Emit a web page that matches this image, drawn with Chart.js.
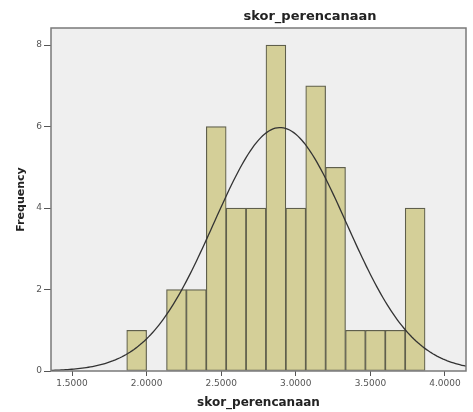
<!DOCTYPE html>
<html>
<head>
<meta charset="utf-8">
<script src="https://cdn.jsdelivr.net/npm/chart.js@4.4.1/dist/chart.umd.min.js"></script>
<style>
  html, body { margin: 0; padding: 0; background: #ffffff; }
  #wrap { width: 473px; height: 412px; }
</style>
</head>
<body>
<div id="wrap"><canvas id="hist" width="473" height="412"></canvas></div>
<script>
// Histogram bins of skor_perencanaan (bin centres) and their frequencies
const binCenters = [1.9333, 2.0667, 2.2000, 2.3333, 2.4667, 2.6000, 2.7333, 2.8667,
                    3.0000, 3.1333, 3.2667, 3.4000, 3.5333, 3.6667, 3.8000];
const frequencies = [1, 0, 2, 2, 6, 4, 4, 8, 4, 7, 5, 1, 1, 1, 4];
const binWidth = 0.13333;

// Fitted normal curve parameters
const curveMean = 2.895;
const curveStdDev = 0.445;
const sampleSize = 50;

// Axis tick values
const xTicks = [1.5, 2.0, 2.5, 3.0, 3.5, 4.0];
const yTicks = [0, 2, 4, 6, 8];
const xMin = 1.359, xMax = 4.141, yMax = 8.42;

const FONT = '"DejaVu Sans", Verdana, sans-serif';

const barPoints = binCenters.map((c, i) => ({ x: c, y: frequencies[i] > 0 ? frequencies[i] : null }));

const curvePoints = [];
for (let k = 0; k <= 200; k++) {
  const x = xMin + (xMax - xMin) * k / 200;
  const z = (x - curveMean) / curveStdDev;
  const y = sampleSize * binWidth / (curveStdDev * Math.sqrt(2 * Math.PI)) * Math.exp(-0.5 * z * z);
  curvePoints.push({ x, y });
}

const plotFrame = {
  id: 'plotFrame',
  beforeDatasetsDraw(chart) {
    const { ctx, chartArea: a } = chart;
    ctx.save();
    ctx.fillStyle = '#efefef';
    ctx.fillRect(a.left, a.top, a.right - a.left, a.bottom - a.top);
    ctx.restore();
  },
  afterDraw(chart) {
    const { ctx, chartArea: a } = chart;
    ctx.save();
    ctx.strokeStyle = '#7a7a7a';
    ctx.lineWidth = 1.5;
    ctx.strokeRect(a.left, a.top, a.right - a.left, a.bottom - a.top);
    ctx.fillStyle = '#222';
    ctx.font = 'bold 13px ' + FONT;
    ctx.textAlign = 'center';
    ctx.textBaseline = 'middle';
    ctx.fillText('skor_perencanaan', 310, 17);
    ctx.restore();
  }
};

new Chart(document.getElementById('hist'), {
  data: {
    datasets: [
      {
        type: 'line',
        data: curvePoints,
        borderColor: '#333333',
        borderWidth: 1.3,
        pointRadius: 0,
        tension: 0,
        fill: false,
        order: 0
      },
      {
        type: 'bar',
        data: barPoints,
        backgroundColor: '#d4cf98',
        borderColor: '#5f5f4c',
        borderWidth: 1.2,
        borderSkipped: false,
        barPercentage: 1,
        categoryPercentage: 1,
        order: 1
      }
    ]
  },
  options: {
    responsive: false,
    animation: false,
    events: [],
    layout: { padding: { top: 28, left: 0, right: 7, bottom: 0 } },
    plugins: { legend: { display: false }, tooltip: { enabled: false }, title: { display: false } },
    scales: {
      x: {
        type: 'linear',
        min: xMin,
        max: xMax,
        offset: false,
        afterBuildTicks(scale) { scale.ticks = xTicks.map(v => ({ value: v })); },
        afterFit(scale) { scale.height = 41; },
        grid: { offset: false, drawOnChartArea: false, drawTicks: true, tickLength: 5, color: '#555', lineWidth: 1 },
        border: { display: false },
        ticks: {
          padding: 2,
          color: '#555',
          font: { size: 9, family: FONT },
          callback: v => Number(v).toFixed(4),
          maxRotation: 0,
          autoSkip: false
        },
        title: {
          display: true,
          text: 'skor_perencanaan',
          color: '#222',
          font: { size: 12, weight: 'bold', family: FONT },
          padding: { top: 0, bottom: 2 }
        }
      },
      y: {
        type: 'linear',
        min: 0,
        max: yMax,
        afterBuildTicks(scale) { scale.ticks = yTicks.map(v => ({ value: v })); },
        afterFit(scale) { scale.width = 51; },
        grid: { drawOnChartArea: false, drawTicks: true, tickLength: 7, color: '#555', lineWidth: 1 },
        border: { display: false },
        ticks: {
          padding: 2,
          color: '#555',
          font: { size: 9, family: FONT },
          autoSkip: false
        },
        title: {
          display: true,
          text: 'Frequency',
          color: '#222',
          font: { size: 11, weight: 'bold', family: FONT },
          padding: { top: 15, bottom: 0 }
        }
      }
    }
  },
  plugins: [plotFrame]
});
</script>
</body>
</html>
